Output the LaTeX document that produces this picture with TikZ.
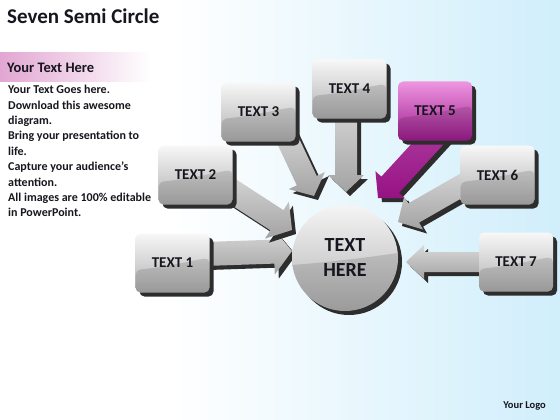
\documentclass[tikz,border=0pt]{standalone}
\usepackage{fontspec}
\setmainfont{Carlito}
\usetikzlibrary{calc,shadows}
\definecolor{bgblue}{RGB}{208,238,251}
\definecolor{pinkband}{RGB}{226,166,210}
\definecolor{magtop}{RGB}{238,150,224}
\definecolor{magbot}{RGB}{160,28,144}
\definecolor{magarr}{RGB}{150,18,132}
\definecolor{ink}{RGB}{22,22,30}
\definecolor{shadowc}{RGB}{45,45,45}

% start, tip, half shaft, half head, head length, fill style
\newcommand\myconn[6]{%
  \coordinate (h#1) at ($(#2)!#5!(#1)$);
  \fill[shadowc, transform canvas={shift={(4pt,-4pt)}}]
    ($(#1)!#3!90:(#2)$) -- ($(h#1)!#3!90:(#2)$) -- ($(h#1)!#4!90:(#2)$) -- (#2)
    -- ($(h#1)!#4!-90:(#2)$) -- ($(h#1)!#3!-90:(#2)$) -- ($(#1)!#3!-90:(#2)$) -- cycle;
  \path[#6]
    ($(#1)!#3!90:(#2)$) -- ($(h#1)!#3!90:(#2)$) -- ($(h#1)!#4!90:(#2)$) -- (#2)
    -- ($(h#1)!#4!-90:(#2)$) -- ($(h#1)!#3!-90:(#2)$) -- ($(#1)!#3!-90:(#2)$) -- cycle;
}

\begin{document}
\begin{tikzpicture}[x=1pt,y=-1pt,
  gloss/.style={path picture={\fill[black,opacity=.13]
      ([yshift=-7pt]path picture bounding box.west)
      .. controls ([yshift=-3pt]path picture bounding box.center)
      and ([xshift=-15pt,yshift=3pt]path picture bounding box.east)
      .. ([yshift=5pt]path picture bounding box.east)
      -- (path picture bounding box.south east)
      -- (path picture bounding box.south west) -- cycle;}},
  box/.style={rectangle, rounded corners=5pt, minimum width=74pt, minimum height=59pt,
    inner sep=0pt, top color=gray!6, bottom color=gray!62, text=ink,
    font=\bfseries\fontsize{15}{15}\selectfont,
    drop shadow={shadow xshift=4pt, shadow yshift=-4pt, fill=shadowc, opacity=1}, gloss},
  magbox/.style={box, top color=magtop, bottom color=magbot},
  circ/.style={circle, minimum size=106pt, inner sep=0pt, top color=gray!8, bottom color=gray!60,
    text=ink, align=center, font=\bfseries\fontsize{20}{25}\selectfont,
    drop shadow={shadow xshift=4pt, shadow yshift=-4pt, fill=shadowc, opacity=1}, gloss},
  garrow/.style={top color=gray!30, bottom color=gray!72},
  marrow/.style={top color=magbot!85!white, bottom color=magarr}
]
\useasboundingbox (0,0) rectangle (560,420);
\fill[white] (0,0) rectangle (560,420);
\shade[left color=white, right color=bgblue] (170,0) rectangle (560,420);
\shade[left color=pinkband, right color=white] (0,53) rectangle (150,82);

\node[anchor=base west, inner sep=0pt, text=ink, font=\bfseries\fontsize{21}{21}\selectfont] (title) at (7,24) {Seven Semi Circle};
\node[anchor=base west, inner sep=0pt, text=ink, font=\bfseries\fontsize{14.5}{14.5}\selectfont] (sub) at (7,73) {Your Text Here};
\node[anchor=north west, inner sep=0pt, align=left, text=ink, font=\bfseries\fontsize{12}{15.4}\selectfont] (body) at (8,85)
  {Your Text Goes here.\\Download this awesome\\diagram.\\Bring your presentation to\\life.\\Capture your audience’s\\attention.\\All images are 100\% editable\\in PowerPoint.};
\node[anchor=base east, inner sep=0pt, text=ink, font=\bfseries\fontsize{10.5}{10.5}\selectfont] (logo) at (546,408) {Your Logo};

% connector end points
\coordinate (s1) at (205,254); \coordinate (t1) at (292,251);
\coordinate (s2) at (215,180); \coordinate (t2) at (292,230);
\coordinate (s3) at (282,128); \coordinate (t3) at (314,196);
\coordinate (s4) at (346,100); \coordinate (t4) at (346,192);
\coordinate (s5) at (445,125); \coordinate (t5) at (378,198);
\coordinate (s6) at (480,175); \coordinate (t6) at (398,222);
\coordinate (s7) at (500,262); \coordinate (t7) at (406,262);

\myconn{s1}{t1}{12pt}{23pt}{18pt}{garrow}
\myconn{s2}{t2}{12pt}{22pt}{18pt}{garrow}
\myconn{s3}{t3}{11pt}{20pt}{17pt}{garrow}
\myconn{s4}{t4}{11pt}{18pt}{17pt}{garrow}
\myconn{s5}{t5}{12pt}{20pt}{18pt}{marrow}
\myconn{s6}{t6}{11pt}{19pt}{18pt}{garrow}
\myconn{s7}{t7}{10pt}{17pt}{18pt}{garrow}

\node[box] (b1) at (172.5,263) {TEXT 1};
\node[box] (b2) at (195.5,175) {TEXT 2};
\node[box] (b3) at (258.5,112) {TEXT 3};
\node[box] (b4) at (349.5,89) {TEXT 4};
\node[magbox] (b5) at (435,111) {TEXT 5};
\node[box] (b6) at (497.5,175) {TEXT 6};
\node[box] (b7) at (516,262) {TEXT 7};

\node[circ] (c) at (345,258) {TEXT\\HERE};
\end{tikzpicture}
\end{document}
